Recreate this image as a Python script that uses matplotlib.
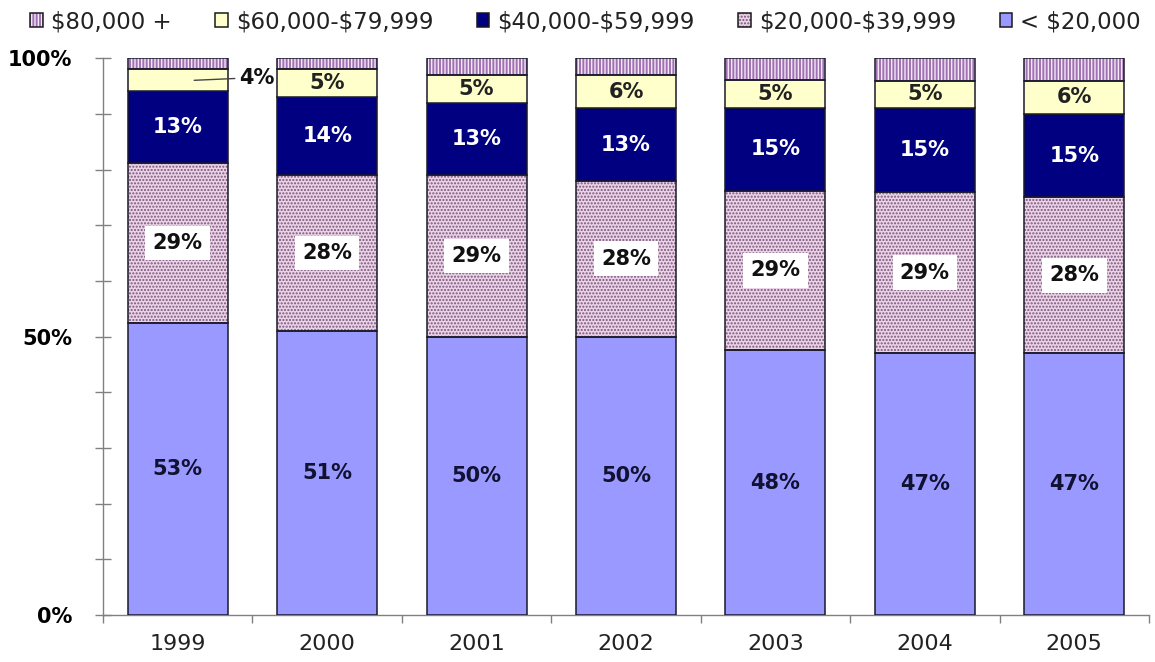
import matplotlib
matplotlib.use('Agg')
import matplotlib.pyplot as plt
from matplotlib.patches import Patch
from matplotlib.legend_handler import HandlerTuple
import numpy as np

plt.rcParams['font.family'] = ['DejaVu Sans']
plt.rcParams['hatch.linewidth'] = 1.0

years = ['1999', '2000', '2001', '2002', '2003', '2004', '2005']
under_20k = [53, 51, 50, 50, 48, 47, 47]
k20_40 = [29, 28, 29, 28, 29, 29, 28]
k40_60 = [13, 14, 13, 13, 15, 15, 15]
k60_80 = [4, 5, 5, 6, 5, 5, 6]
k80_plus = [2, 2, 3, 3, 4, 4, 4]

legend_labels = ['$80,000 +', '$60,000-$79,999', '$40,000-$59,999',
                 '$20,000-$39,999', '< $20,000']

raw = np.array([under_20k, k20_40, k40_60, k60_80, k80_plus], dtype=float)
shares = raw / raw.sum(axis=0) * 100

# style per series (bottom to top)
styles = [
    dict(face='#9999FF', hatch=None, hcol=None),
    dict(face='#EBD2E6', hatch='.....', hcol='#76567A'),
    dict(face='#000080', hatch=None, hcol=None),
    dict(face='#FFFFCC', hatch=None, hcol=None),
    dict(face='#A070B4', hatch='|||||', hcol='#F4E8F6'),
]

fig = plt.figure(figsize=(11.55, 6.62), dpi=100)
ax = fig.add_axes([0.0892, 0.071, 0.9056, 0.841])

x = np.arange(len(years))
w = 0.67
bottom = np.zeros(len(years))
handles = []
for i, st in enumerate(styles):
    vals = shares[i]
    if st['hatch']:
        ax.bar(x, vals, w, bottom=bottom, color=st['face'], edgecolor=st['hcol'],
               hatch=st['hatch'], linewidth=0, zorder=2)
        ax.bar(x, vals, w, bottom=bottom, fill=False, edgecolor='#1a1a2a',
               linewidth=1.1, zorder=3)
        h = (Patch(facecolor=st['face'], edgecolor=st['hcol'], hatch=st['hatch'], linewidth=0),
             Patch(fill=False, edgecolor='#1a1a1a', linewidth=1.1))
    else:
        ax.bar(x, vals, w, bottom=bottom, color=st['face'], edgecolor='#1a1a2a',
               linewidth=1.1, zorder=3)
        h = (Patch(facecolor=st['face'], edgecolor='#1a1a1a', linewidth=1.1),)
    handles.append(h)

    centers = bottom + vals / 2
    for j in range(len(years)):
        v = int(raw[i, j])
        txt = f'{v}%'
        if i == 0:
            ax.text(x[j], centers[j], txt, ha='center', va='center', fontsize=15,
                    fontweight='bold', color='#111133', zorder=5)
        elif i == 1:
            ax.text(x[j], centers[j], txt, ha='center', va='center', fontsize=15,
                    fontweight='bold', color='#111111', zorder=5,
                    bbox=dict(boxstyle='square,pad=0.35', facecolor='white',
                              edgecolor='none'))
        elif i == 2:
            ax.text(x[j], centers[j], txt, ha='center', va='center', fontsize=15,
                    fontweight='bold', color='white', zorder=5)
        elif i == 3:
            if j == 0:
                ax.annotate(txt, xy=(x[j] + 0.11, centers[j]),
                            xytext=(x[j] + 0.41, centers[j] + 0.5),
                            ha='left', va='center', fontsize=15,
                            fontweight='bold', color='#111111', zorder=6,
                            arrowprops=dict(arrowstyle='-', color='#444444', lw=1,
                                            shrinkA=1, shrinkB=0))
            else:
                ax.text(x[j], centers[j], txt, ha='center', va='center', fontsize=15,
                        fontweight='bold', color='#222222', zorder=5)
    bottom = bottom + vals

ax.set_xlim(-0.5, len(years) - 0.5)
ax.set_ylim(0, 100)

yt = np.arange(0, 101, 10)
ax.set_yticks(yt)
ax.set_yticklabels([f'{t}%' if t in (0, 50, 100) else '' for t in yt],
                   fontsize=15, fontweight='bold')
ax.tick_params(axis='y', direction='inout', length=12, width=1, color='#808080',
               pad=16)

ax.set_xticks(x)
ax.set_xticklabels(years, fontsize=16, color='#222222')
ax.tick_params(axis='x', which='major', length=0, pad=14)
ax.set_xticks(np.arange(-0.5, len(years), 1), minor=True)
ax.tick_params(axis='x', which='minor', direction='out', length=6, width=1,
               color='#808080')

for s in ['top', 'right']:
    ax.spines[s].set_visible(False)
for s in ['left', 'bottom']:
    ax.spines[s].set_color('#808080')
    ax.spines[s].set_linewidth(1)

leg = fig.legend(handles[::-1], [lbl.replace('$', r'\$') for lbl in legend_labels],
                 loc='center', bbox_to_anchor=(0.507, 0.967), ncol=5, frameon=False,
                 fontsize=16.5, handlelength=0.55, handleheight=0.55,
                 handletextpad=0.35, columnspacing=1.9, borderpad=0,
                 handler_map={tuple: HandlerTuple(ndivide=1, pad=0)})
for t in leg.get_texts():
    t.set_color('#222222')

fig.savefig('out.png', dpi=100)
